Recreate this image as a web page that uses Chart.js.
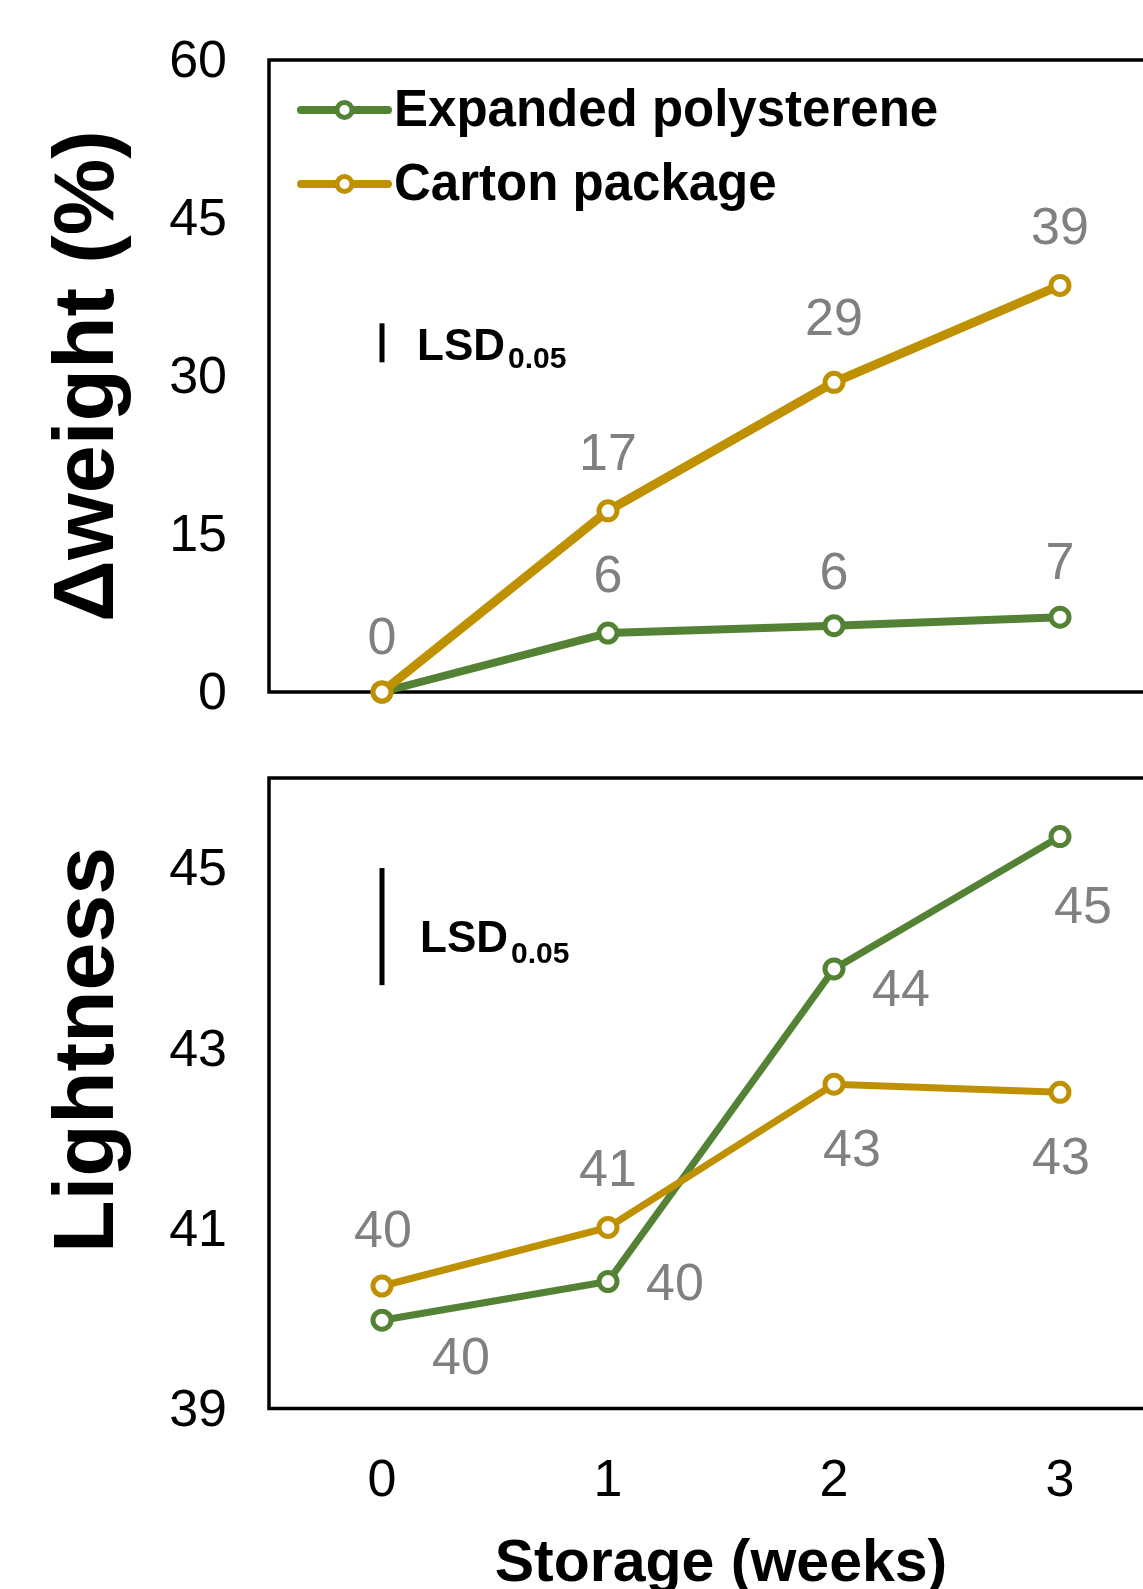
<!DOCTYPE html>
<html>
<head>
<meta charset="utf-8">
<title>Storage weight and lightness</title>
<script src="https://cdn.jsdelivr.net/npm/chart.js@4.4.1/dist/chart.umd.min.js"></script>
<style>
  html, body { margin: 0; padding: 0; background: #fff; overflow: hidden; }
  #wrap { position: relative; width: 1143px; height: 1589px; overflow: hidden; }
  #wrap canvas { position: absolute; left: 0; }
  #cWeight { top: 0; }
  #cLight { top: 740px; }
</style>
</head>
<body>
<div id="wrap">
  <canvas id="cWeight" width="1200" height="740"></canvas>
  <canvas id="cLight" width="1200" height="849"></canvas>
</div>
<script>
// ---- data ----
const weeks = ['0', '1', '2', '3'];
const seriesNames = ['Expanded polysterene', 'Carton package'];

const weightEPS = [0, 5.6, 6.3, 7.1];
const weightCarton = [0, 17.2, 29.4, 38.6];

const lightEPS = [39.98, 40.41, 43.88, 45.35];
const lightCarton = [40.36, 41.01, 42.60, 42.51];

const weightTicks = [0, 15, 30, 45, 60];
const lightTicks = [39, 41, 43, 45];

const lsdWeight = 3.7;
const lsdLight = 1.3;

// ---- styling ----
const FONT = "'Liberation Sans', Arial, Helvetica, sans-serif";
const GREEN = '#548235';
const GOLD = '#BF9000';
const LABEL_GREY = '#808080';

Chart.defaults.font.family = FONT;
Chart.defaults.color = '#000';

function lineDataset(label, data, color, width, order) {
  return {
    label: label,
    data: data,
    borderColor: color,
    backgroundColor: '#fff',
    borderWidth: width,
    pointRadius: 9,
    pointHoverRadius: 9,
    pointBorderWidth: 5,
    pointBackgroundColor: '#fff',
    pointBorderColor: color,
    tension: 0,
    clip: false,
    order: order
  };
}

// plot frame drawn under the lines
const framePlugin = {
  id: 'frame',
  beforeDatasetsDraw(chart) {
    const a = chart.chartArea, ctx = chart.ctx;
    ctx.save();
    ctx.strokeStyle = '#000';
    ctx.lineWidth = 3.5;
    ctx.strokeRect(a.left, a.top, a.right - a.left, a.bottom - a.top);
    ctx.restore();
  }
};

// rounded value labels next to each point
const valueLabelPlugin = {
  id: 'valueLabels',
  afterDatasetsDraw(chart, args, opts) {
    const ctx = chart.ctx;
    const seen = new Set();
    ctx.save();
    ctx.font = '52px ' + FONT;
    ctx.fillStyle = LABEL_GREY;
    ctx.textAlign = 'center';
    ctx.textBaseline = 'middle';
    chart.data.datasets.forEach((ds, di) => {
      const meta = chart.getDatasetMeta(di);
      meta.data.forEach((pt, i) => {
        const off = opts.offsets[di][i];
        const x = pt.x + off[0], y = pt.y + off[1] + 4;
        const text = String(Math.round(ds.data[i]));
        const key = text + '@' + Math.round(x) + ',' + Math.round(y);
        if (seen.has(key)) return;
        seen.add(key);
        ctx.fillText(text, x, y);
      });
    });
    ctx.restore();
  }
};

// LSD bar with its label
const lsdPlugin = {
  id: 'lsd',
  afterDatasetsDraw(chart, args, opts) {
    const ctx = chart.ctx;
    const xs = chart.scales.x, ys = chart.scales.y;
    const x = xs.getPixelForValue(0);
    const y0 = ys.getPixelForValue(opts.base);
    const y1 = ys.getPixelForValue(opts.base + opts.value);
    ctx.save();
    ctx.strokeStyle = '#000';
    ctx.lineWidth = 5;
    ctx.beginPath();
    ctx.moveTo(x, y0);
    ctx.lineTo(x, y1);
    ctx.stroke();
    ctx.fillStyle = '#000';
    ctx.textAlign = 'left';
    ctx.textBaseline = 'alphabetic';
    ctx.font = 'bold 44px ' + FONT;
    const tx = x + opts.textDx;
    const ty = opts.textY;
    ctx.fillText('LSD', tx, ty);
    const w = ctx.measureText('LSD').width;
    ctx.font = 'bold 30px ' + FONT;
    ctx.fillText('0.05', tx + w + 3, ty + opts.subDy);
    ctx.restore();
  }
};

// vertical axis title
const yTitlePlugin = {
  id: 'yTitle',
  afterDraw(chart, args, opts) {
    const ctx = chart.ctx;
    ctx.save();
    ctx.translate(opts.x, opts.y);
    ctx.rotate(-Math.PI / 2);
    ctx.font = 'bold 86px ' + FONT;
    ctx.fillStyle = '#000';
    ctx.textAlign = 'center';
    ctx.textBaseline = 'middle';
    ctx.fillText(opts.text, 0, 0);
    ctx.restore();
  }
};

// legend inside the plot: line + open marker + series name
const legendPlugin = {
  id: 'insideLegend',
  afterDraw(chart, args, opts) {
    const ctx = chart.ctx;
    ctx.save();
    chart.data.datasets.slice().sort((a, b) => a.legendIndex - b.legendIndex).forEach((ds, i) => {
      const y = opts.y + i * opts.rowGap;
      ctx.strokeStyle = ds.borderColor;
      ctx.lineWidth = 8;
      ctx.lineCap = 'round';
      ctx.beginPath();
      ctx.moveTo(opts.x0, y);
      ctx.lineTo(opts.x1, y);
      ctx.stroke();
      ctx.lineWidth = 5;
      ctx.fillStyle = '#fff';
      ctx.beginPath();
      ctx.arc((opts.x0 + opts.x1) / 2, y, 7.5, 0, Math.PI * 2);
      ctx.fill();
      ctx.stroke();
      ctx.fillStyle = '#000';
      ctx.font = 'bold 51px ' + FONT;
      ctx.textAlign = 'left';
      ctx.textBaseline = 'middle';
      ctx.fillText(ds.label, opts.textX, y + 2);
    });
    ctx.restore();
  }
};

function yScale(min, max, tickValues) {
  return {
    type: 'linear',
    min: min,
    max: max,
    afterBuildTicks(scale) { scale.ticks = tickValues.map(v => ({ value: v })); },
    afterFit(scale) {
      scale.width = 269;
      // labels may overhang the plot edges; the layout padding already covers that
      scale.paddingTop = 0;
      scale.paddingBottom = 0;
    },
    grid: { display: false, drawTicks: false },
    border: { display: false },
    ticks: { font: { size: 52 }, color: '#000', padding: 42, labelOffset: 3 }
  };
}

// ---- Δweight chart ----
const eps1 = lineDataset(seriesNames[0], weightEPS, GREEN, 8, 1);
eps1.legendIndex = 0;
const car1 = lineDataset(seriesNames[1], weightCarton, GOLD, 9, 0);
car1.legendIndex = 1;

new Chart(document.getElementById('cWeight'), {
  type: 'line',
  data: { labels: weeks, datasets: [eps1, car1] },
  options: {
    responsive: false,
    animation: false,
    events: [],
    layout: { padding: { top: 60, left: 0, right: 27, bottom: 48 } },
    scales: {
      x: { type: 'category', offset: true, display: false },
      y: yScale(0, 60, weightTicks)
    },
    plugins: {
      legend: { display: false },
      tooltip: { enabled: false },
      valueLabels: {
        offsets: [
          [[0, -56], [0, -59], [0, -55], [0, -57]],
          [[0, -56], [0, -59], [0, -66], [0, -60]]
        ]
      },
      lsd: { base: 31.3, value: lsdWeight, textDx: 35, textY: 360, subDy: 8 },
      yTitle: { text: 'Δweight (%)', x: 89, y: 376 },
      insideLegend: { x0: 301, x1: 388, y: 110, rowGap: 74, textX: 394 }
    }
  },
  plugins: [framePlugin, valueLabelPlugin, lsdPlugin, yTitlePlugin, legendPlugin]
});

// ---- Lightness chart ----
new Chart(document.getElementById('cLight'), {
  type: 'line',
  data: {
    labels: weeks,
    datasets: [
      lineDataset(seriesNames[0], lightEPS, GREEN, 7, 1),
      lineDataset(seriesNames[1], lightCarton, GOLD, 7, 0)
    ]
  },
  options: {
    responsive: false,
    animation: false,
    events: [],
    layout: { padding: { top: 38, left: 0, right: 27, bottom: 0 } },
    scales: {
      x: {
        type: 'category',
        offset: true,
        afterFit(scale) { scale.height = 180.5; },
        grid: { display: false, drawTicks: false },
        border: { display: false },
        ticks: { font: { size: 52 }, color: '#000', padding: 42 },
        title: {
          display: true,
          text: 'Storage (weeks)',
          font: { size: 59, weight: 'bold', lineHeight: 0.83 },
          color: '#000',
          padding: { top: 0, bottom: 0 }
        }
      },
      y: yScale(39, 46, lightTicks)
    },
    plugins: {
      legend: { display: false },
      tooltip: { enabled: false },
      valueLabels: {
        offsets: [
          [[79, 35], [67, 0], [67, 19], [23, 68]],
          [[1, -57], [0, -60], [18, 63], [1, 63]]
        ]
      },
      lsd: { base: 43.7, value: lsdLight, textDx: 38, textY: 212, subDy: 11 },
      yTitle: { text: 'Lightness', x: 89, y: 310 }
    }
  },
  plugins: [framePlugin, valueLabelPlugin, lsdPlugin, yTitlePlugin]
});
</script>
</body>
</html>
